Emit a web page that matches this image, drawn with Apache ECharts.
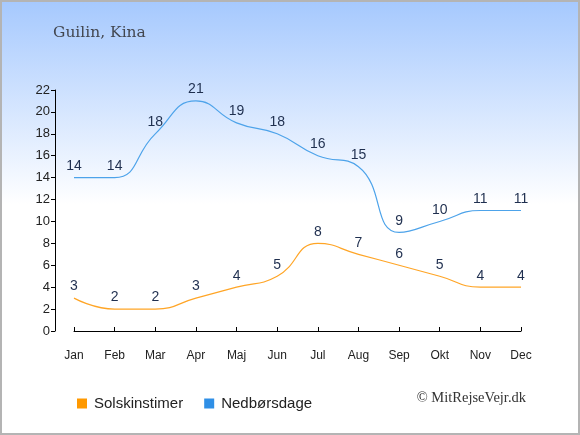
<!DOCTYPE html>
<html>
<head>
<meta charset="utf-8">
<script src="https://cdn.jsdelivr.net/npm/echarts@6/dist/echarts.min.js"></script>
<style>
  html, body { margin: 0; padding: 0; }
  #main { width: 576px; height: 431px; border: 2px solid #b4b4b4; }
</style>
</head>
<body>
<div id="main"></div>
<script>
// months on the x axis
const months = ['Jan', 'Feb', 'Mar', 'Apr', 'Maj', 'Jun', 'Jul', 'Aug', 'Sep', 'Okt', 'Nov', 'Dec'];
// sunshine hours per day
const sunHours = [3, 2, 2, 3, 4, 5, 8, 7, 6, 5, 4, 4];
// days with precipitation
const rainDays = [14, 14, 18, 21, 19, 18, 16, 15, 9, 10, 11, 11];

const chart = echarts.init(document.getElementById('main'));

const labelStyle = {
    show: true,
    position: 'top',
    distance: 4,
    color: '#1f2f4f',
    fontSize: 14,
    fontFamily: 'Liberation Sans, Arial, sans-serif'
};

const option = {
    backgroundColor: {
        type: 'linear', x: 0, y: 0, x2: 0, y2: 1,
        colorStops: [
            { offset: 0, color: '#a6c9fe' },
            { offset: 0.47, color: '#ffffff' },
            { offset: 1, color: '#ffffff' }
        ]
    },
    animation: false,
    title: {
        text: 'Guilin, Kina',
        left: 46,
        top: 18,
        textStyle: {
            fontFamily: 'DejaVu Serif, serif',
            fontWeight: 'normal',
            fontSize: 15.5,
            color: '#42464f'
        }
    },
    graphic: [{
        type: 'text',
        right: 52,
        top: 389,
        style: {
            text: '© MitRejseVejr.dk',
            font: '14.5px "Liberation Serif", serif',
            fill: '#333'
        }
    }],
    legend: {
        left: 70,
        top: 389,
        itemWidth: 10,
        itemHeight: 10,
        itemGap: 21,
        icon: 'rect',
        textStyle: {
            fontFamily: 'Liberation Sans, Arial, sans-serif',
            fontSize: 15,
            color: '#222',
            padding: [0, 0, 0, 2]
        },
        data: [
            { name: 'Solskinstimer', itemStyle: { color: '#ff9900', opacity: 1 } },
            { name: 'Nedbørsdage', itemStyle: { color: '#2f8fe6', opacity: 1 } }
        ]
    },
    grid: { left: 72, right: 57, top: 88, bottom: 102 },
    xAxis: {
        type: 'category',
        data: months,
        boundaryGap: false,
        offset: 11,
        axisLine: { lineStyle: { color: '#000', width: 1 } },
        axisTick: { inside: true, length: 4, alignWithLabel: true, lineStyle: { color: '#000' } },
        axisLabel: {
            color: '#222',
            fontSize: 12,
            margin: 8,
            fontFamily: 'Liberation Sans, Arial, sans-serif'
        },
        splitLine: { show: false }
    },
    yAxis: {
        type: 'value',
        min: 0,
        max: 22,
        interval: 2,
        offset: 19,
        axisLine: { show: true, lineStyle: { color: '#000', width: 1 } },
        axisTick: { show: true, length: 4, lineStyle: { color: '#000' } },
        axisLabel: {
            color: '#222',
            fontSize: 13,
            margin: 5,
            fontFamily: 'Liberation Sans, Arial, sans-serif'
        },
        splitLine: { show: false }
    },
    series: [
        {
            name: 'Solskinstimer',
            type: 'line',
            data: sunHours,
            smooth: 0.5,
            symbol: 'circle',
            symbolSize: 1,
            showSymbol: true,
            itemStyle: { color: 'rgba(0,0,0,0)' },
            lineStyle: { color: '#ffa526', width: 1.2 },
            label: labelStyle
        },
        {
            name: 'Nedbørsdage',
            type: 'line',
            data: rainDays,
            smooth: 0.5,
            symbol: 'circle',
            symbolSize: 1,
            showSymbol: true,
            itemStyle: { color: 'rgba(0,0,0,0)' },
            lineStyle: { color: '#4da3ea', width: 1.2 },
            label: labelStyle
        }
    ]
};

chart.setOption(option);
</script>
</body>
</html>
